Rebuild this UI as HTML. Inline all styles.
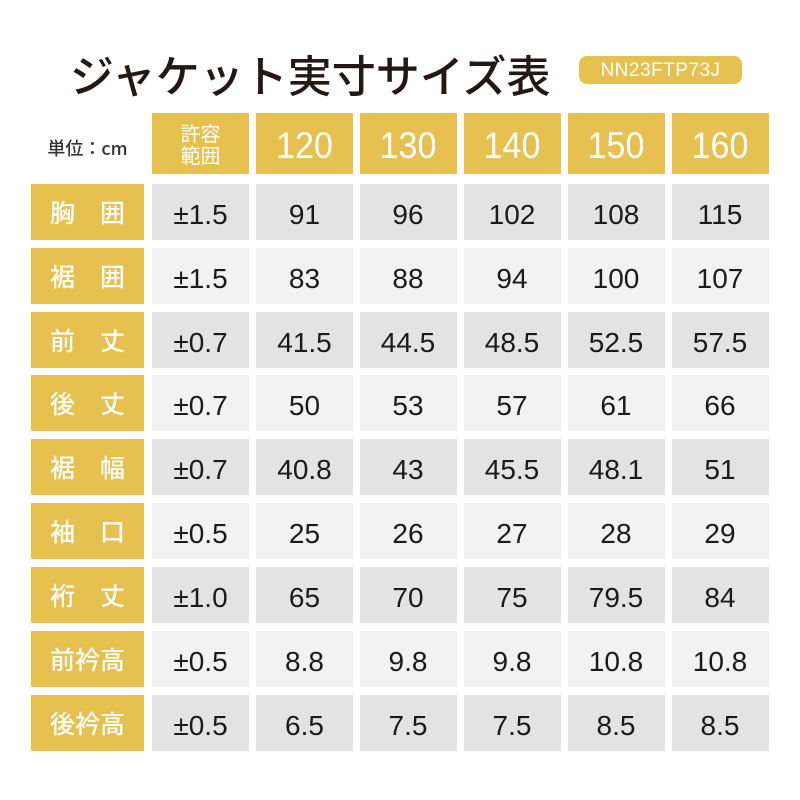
<!DOCTYPE html>
<html><head><meta charset="utf-8">
<style>
html,body{margin:0;padding:0;background:#fff;}
body{width:800px;height:800px;position:relative;overflow:hidden;font-family:"Liberation Sans","Noto Sans CJK JP",sans-serif;}
.a{position:absolute;box-sizing:border-box;display:flex;align-items:center;justify-content:center;}
.title{position:absolute;left:70px;top:45px;font-family:"Noto Sans CJK JP",sans-serif;font-size:44px;font-weight:500;color:#231815;line-height:56px;white-space:nowrap;letter-spacing:0px;}
.badge{left:579px;top:56px;width:163px;height:28px;border-radius:8px;background:#E6C14F;color:#fff;font-size:19px;letter-spacing:0.5px;padding-top:2px;}
.unit{left:30px;top:134px;width:115px;height:28px;font-family:"Noto Sans CJK JP",sans-serif;font-size:18px;font-weight:500;color:#333;}
.h{background:#E6C14F;color:#fff;top:113px;height:61px;width:97px;font-size:34px;padding-top:6px;}
.h span.s{display:inline-block;transform:scaleY(1.1);}
.h2{font-family:"Noto Sans CJK JP",sans-serif;font-size:20px;line-height:22px;flex-direction:column;padding-top:0;}
.l{background:#E6C14F;color:#fff;left:31px;width:113px;height:56px;font-family:"Noto Sans CJK JP",sans-serif;font-size:25px;font-weight:500;}
.c{width:97px;height:56px;font-size:28px;color:#1a1a1a;padding-top:6px;}
.d{background:#E3E3E3;}
.e{background:#F2F2F2;}
</style></head><body>
<div class="title">ジャケット実寸サイズ表</div>
<div class="a badge">NN23FTP73J</div>
<div class="a unit">単位：cm</div>

<div class="a h h2" style="left:152px"><span>許容</span><span>範囲</span></div>
<div class="a h" style="left:256px"><span class="s">120</span></div>
<div class="a h" style="left:359.5px"><span class="s">130</span></div>
<div class="a h" style="left:463.5px"><span class="s">140</span></div>
<div class="a h" style="left:567.5px"><span class="s">150</span></div>
<div class="a h" style="left:671.5px"><span class="s">160</span></div>

<!-- row 0 -->
<div class="a l" style="top:184px">胸　囲</div>
<div class="a c d" style="top:184px;left:152px">±1.5</div>
<div class="a c d" style="top:184px;left:256px">91</div>
<div class="a c d" style="top:184px;left:359.5px">96</div>
<div class="a c d" style="top:184px;left:463.5px">102</div>
<div class="a c d" style="top:184px;left:567.5px">108</div>
<div class="a c d" style="top:184px;left:671.5px">115</div>
<!-- row 1 -->
<div class="a l" style="top:248px">裾　囲</div>
<div class="a c e" style="top:248px;left:152px">±1.5</div>
<div class="a c e" style="top:248px;left:256px">83</div>
<div class="a c e" style="top:248px;left:359.5px">88</div>
<div class="a c e" style="top:248px;left:463.5px">94</div>
<div class="a c e" style="top:248px;left:567.5px">100</div>
<div class="a c e" style="top:248px;left:671.5px">107</div>
<!-- row 2 -->
<div class="a l" style="top:311.5px">前　丈</div>
<div class="a c d" style="top:311.5px;left:152px">±0.7</div>
<div class="a c d" style="top:311.5px;left:256px">41.5</div>
<div class="a c d" style="top:311.5px;left:359.5px">44.5</div>
<div class="a c d" style="top:311.5px;left:463.5px">48.5</div>
<div class="a c d" style="top:311.5px;left:567.5px">52.5</div>
<div class="a c d" style="top:311.5px;left:671.5px">57.5</div>
<!-- row 3 -->
<div class="a l" style="top:375.3px">後　丈</div>
<div class="a c e" style="top:375.3px;left:152px">±0.7</div>
<div class="a c e" style="top:375.3px;left:256px">50</div>
<div class="a c e" style="top:375.3px;left:359.5px">53</div>
<div class="a c e" style="top:375.3px;left:463.5px">57</div>
<div class="a c e" style="top:375.3px;left:567.5px">61</div>
<div class="a c e" style="top:375.3px;left:671.5px">66</div>
<!-- row 4 -->
<div class="a l" style="top:439px">裾　幅</div>
<div class="a c d" style="top:439px;left:152px">±0.7</div>
<div class="a c d" style="top:439px;left:256px">40.8</div>
<div class="a c d" style="top:439px;left:359.5px">43</div>
<div class="a c d" style="top:439px;left:463.5px">45.5</div>
<div class="a c d" style="top:439px;left:567.5px">48.1</div>
<div class="a c d" style="top:439px;left:671.5px">51</div>
<!-- row 5 -->
<div class="a l" style="top:503px">袖　口</div>
<div class="a c e" style="top:503px;left:152px">±0.5</div>
<div class="a c e" style="top:503px;left:256px">25</div>
<div class="a c e" style="top:503px;left:359.5px">26</div>
<div class="a c e" style="top:503px;left:463.5px">27</div>
<div class="a c e" style="top:503px;left:567.5px">28</div>
<div class="a c e" style="top:503px;left:671.5px">29</div>
<!-- row 6 -->
<div class="a l" style="top:567px">裄　丈</div>
<div class="a c d" style="top:567px;left:152px">±1.0</div>
<div class="a c d" style="top:567px;left:256px">65</div>
<div class="a c d" style="top:567px;left:359.5px">70</div>
<div class="a c d" style="top:567px;left:463.5px">75</div>
<div class="a c d" style="top:567px;left:567.5px">79.5</div>
<div class="a c d" style="top:567px;left:671.5px">84</div>
<!-- row 7 -->
<div class="a l" style="top:631px">前衿高</div>
<div class="a c e" style="top:631px;left:152px">±0.5</div>
<div class="a c e" style="top:631px;left:256px">8.8</div>
<div class="a c e" style="top:631px;left:359.5px">9.8</div>
<div class="a c e" style="top:631px;left:463.5px">9.8</div>
<div class="a c e" style="top:631px;left:567.5px">10.8</div>
<div class="a c e" style="top:631px;left:671.5px">10.8</div>
<!-- row 8 -->
<div class="a l" style="top:694.5px">後衿高</div>
<div class="a c d" style="top:694.5px;left:152px">±0.5</div>
<div class="a c d" style="top:694.5px;left:256px">6.5</div>
<div class="a c d" style="top:694.5px;left:359.5px">7.5</div>
<div class="a c d" style="top:694.5px;left:463.5px">7.5</div>
<div class="a c d" style="top:694.5px;left:567.5px">8.5</div>
<div class="a c d" style="top:694.5px;left:671.5px">8.5</div>
</body></html>
